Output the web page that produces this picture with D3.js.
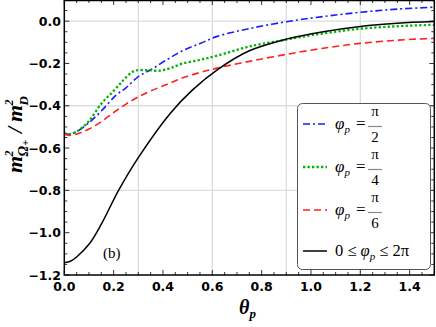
<!DOCTYPE html>
<html>
<head>
<meta charset="utf-8">
<script src="https://cdn.jsdelivr.net/npm/d3@7"></script>
<style>
  body { margin: 0; background: #fff; }
  svg { display: block; }
  .tick-label { font-family: "DejaVu Sans", sans-serif; font-weight: bold; font-size: 12.5px; }
  .math { font-family: "Liberation Serif", serif; }
</style>
</head>
<body>
<div id="chart"></div>
<script>
// theta_p samples and m^2/m_D^2 values
var blueX  = [0, 0.02, 0.05, 0.1, 0.15, 0.21, 0.25, 0.3, 0.35, 0.415, 0.483, 0.55, 0.62, 0.75, 0.9, 1.05, 1.2, 1.35, 1.5];
var blueY  = [-0.53, -0.535, -0.522, -0.48, -0.425, -0.35, -0.315, -0.262, -0.23, -0.183, -0.138, -0.106, -0.072, -0.035, -0.003, 0.022, 0.042, 0.057, 0.066];

var greenX = [0, 0.02, 0.06, 0.1, 0.15, 0.2, 0.24, 0.27, 0.29, 0.34, 0.39, 0.43, 0.48, 0.55, 0.62, 0.75, 0.9, 1.05, 1.2, 1.35, 1.5];
var greenY = [-0.53, -0.535, -0.515, -0.472, -0.39, -0.33, -0.278, -0.245, -0.233, -0.232, -0.234, -0.222, -0.2, -0.183, -0.163, -0.12, -0.087, -0.058, -0.036, -0.024, -0.017];

var redX   = [0, 0.02, 0.06, 0.1, 0.15, 0.2, 0.25, 0.3, 0.35, 0.42, 0.48, 0.55, 0.62, 0.75, 0.9, 1.05, 1.2, 1.35, 1.5];
var redY   = [-0.535, -0.54, -0.53, -0.51, -0.475, -0.432, -0.392, -0.358, -0.33, -0.297, -0.268, -0.243, -0.222, -0.19, -0.157, -0.128, -0.105, -0.09, -0.081];

var blackX = [0, 0.025, 0.05, 0.1, 0.15, 0.22, 0.3, 0.43, 0.52, 0.62, 0.75, 0.9, 1.05, 1.2, 1.35, 1.5];
var blackY = [-1.142, -1.135, -1.115, -1.055, -0.96, -0.8, -0.645, -0.435, -0.325, -0.23, -0.14, -0.085, -0.05, -0.025, -0.01, -0.002];

var xTicks = [0.0, 0.2, 0.4, 0.6, 0.8, 1.0, 1.2, 1.4];
var yTicks = [0.0, -0.2, -0.4, -0.6, -0.8, -1.0, -1.2];
var xGrid = [0.3, 0.6, 0.9, 1.2];
var yGrid = [0.0, -0.4, -0.8];

var legendDenoms = ["2", "4", "6"];

(function () {
  'use strict';
  var width = 436, height = 327;
  var svg = d3.select("#chart").append("svg")
    .attr("width", width)
    .attr("height", height);

  var x = d3.scaleLinear().domain([0, 1.5]).range([64.3, 434.3]);
  var y = d3.scaleLinear().domain([-1.2, 0.1]).range([275, 0]);

  function fmt(v) {
    return d3.format(".1f")(v).replace("-", "\u2212");
  }

  // grid
  svg.append("g").selectAll("line").data(xGrid).enter().append("line")
    .attr("x1", function (d) { return x(d); }).attr("x2", function (d) { return x(d); })
    .attr("y1", y(0.1)).attr("y2", y(-1.2))
    .attr("stroke", "#dcdcdc").attr("stroke-width", 1.3);
  svg.append("g").selectAll("line").data(yGrid).enter().append("line")
    .attr("x1", x(0)).attr("x2", x(1.5))
    .attr("y1", function (d) { return y(d); }).attr("y2", function (d) { return y(d); })
    .attr("stroke", "#dcdcdc").attr("stroke-width", 1.3);

  // tick marks, inward on all four sides
  var ticks = svg.append("g").attr("stroke", "#000").attr("stroke-width", 0.8);
  d3.range(0, 1.5001, 0.05).forEach(function (v) {
    var major = Math.abs(v * 5 - Math.round(v * 5)) < 1e-6;
    var len = major ? 5 : 3;
    ticks.append("line").attr("x1", x(v)).attr("x2", x(v)).attr("y1", y(-1.2)).attr("y2", y(-1.2) - len);
    ticks.append("line").attr("x1", x(v)).attr("x2", x(v)).attr("y1", y(0.1)).attr("y2", y(0.1) + len);
  });
  d3.range(-1.2, 0.1001, 0.05).forEach(function (v) {
    var major = Math.abs(v * 5 - Math.round(v * 5)) < 1e-6;
    var len = major ? 5 : 3;
    ticks.append("line").attr("x1", x(0)).attr("x2", x(0) + len).attr("y1", y(v)).attr("y2", y(v));
    ticks.append("line").attr("x1", x(1.5)).attr("x2", x(1.5) - len).attr("y1", y(v)).attr("y2", y(v));
  });

  // curves
  var line = d3.line()
    .x(function (d) { return x(d[0]); })
    .y(function (d) { return y(d[1]); })
    .curve(d3.curveCatmullRom.alpha(0.5));

  var series = [
    { xs: blueX, ys: blueY, color: "#1a1aff", dash: "7,3,2,3", w: 1.6 },
    { xs: greenX, ys: greenY, color: "#00b400", dash: "2.3,2.2", w: 2.3 },
    { xs: redX, ys: redY, color: "#ff2020", dash: "7,4", w: 1.6 },
    { xs: blackX, ys: blackY, color: "#000000", dash: null, w: 1.5 }
  ];

  var plot = svg.append("g");
  series.forEach(function (s) {
    plot.append("path")
      .datum(d3.zip(s.xs, s.ys))
      .attr("d", line)
      .attr("fill", "none")
      .attr("stroke", s.color)
      .attr("stroke-width", s.w)
      .attr("stroke-dasharray", s.dash);
  });

  // frame
  svg.append("rect")
    .attr("x", x(0)).attr("y", y(0.1) + 0.5)
    .attr("width", x(1.5) - x(0)).attr("height", y(-1.2) - y(0.1) - 0.5)
    .attr("fill", "none").attr("stroke", "#000").attr("stroke-width", 1.5);

  // tick labels
  svg.append("g").selectAll("text").data(xTicks).enter().append("text")
    .attr("class", "tick-label")
    .attr("x", function (d) { return x(d); })
    .attr("y", 291)
    .attr("text-anchor", "middle")
    .text(fmt);
  svg.append("g").selectAll("text").data(yTicks).enter().append("text")
    .attr("class", "tick-label")
    .attr("x", 61)
    .attr("y", function (d) { return y(d) + 4.5; })
    .attr("text-anchor", "end")
    .text(fmt);

  // x label
  var xl = svg.append("text").attr("class", "math")
    .attr("x", 239).attr("y", 314)
    .style("font-size", "20px").style("font-style", "italic").style("font-weight", "bold");
  xl.append("tspan").text("θ");
  xl.append("tspan").attr("dy", 4).style("font-size", "13px").text("p");

  // y label, pieces laid out along the rotated baseline
  var yl = svg.append("g")
    .attr("class", "math")
    .attr("transform", "translate(22,173) rotate(-90)")
    .style("font-style", "italic").style("font-weight", "bold");
  var pieces = [
    { t: "m", x: 0, y: 0, s: 22 },
    { t: "2", x: 16.5, y: -9, s: 12 },
    { t: "Ω", x: 16.5, y: 6, s: 14 },
    { t: "+", x: 27, y: 7, s: 11 },
    { t: "/", x: 40, y: 0, s: 22 },
    { t: "m", x: 51, y: 0, s: 22 },
    { t: "2", x: 67.5, y: -9, s: 12 },
    { t: "D", x: 67.5, y: 6, s: 13 }
  ];
  yl.selectAll("text").data(pieces).enter().append("text")
    .attr("x", function (d) { return d.x; })
    .attr("y", function (d) { return d.y; })
    .style("font-size", function (d) { return d.s + "px"; })
    .text(function (d) { return d.t; });

  // panel tag
  svg.append("text").attr("class", "math")
    .attr("x", 103).attr("y", 258)
    .style("font-size", "15px")
    .text("(b)");

  // legend
  svg.append("rect")
    .attr("x", 297.5).attr("y", 103.5).attr("width", 133).attr("height", 166)
    .attr("rx", 5).attr("ry", 5)
    .attr("fill", "#fff").attr("stroke", "#555").attr("stroke-width", 1);

  var rowY = [124, 167, 210, 251];
  var lg = svg.append("g");
  series.forEach(function (s, i) {
    var cy = rowY[i];
    lg.append("line")
      .attr("x1", 303).attr("x2", 327).attr("y1", cy).attr("y2", cy)
      .attr("stroke", s.color).attr("stroke-width", s.w)
      .attr("stroke-dasharray", s.dash);
    if (i < 3) {
      var t = lg.append("text").attr("class", "math")
        .attr("x", 335).attr("y", cy + 5).style("font-size", "17px");
      t.append("tspan").style("font-style", "italic").text("φ");
      t.append("tspan").attr("dy", 4).style("font-size", "11px").style("font-style", "italic").text("p");
      lg.append("text").attr("class", "math")
        .attr("x", 356).attr("y", cy + 5).style("font-size", "17px").text("=");
      lg.append("text").attr("class", "math")
        .attr("x", 375).attr("y", cy - 8).attr("text-anchor", "middle")
        .style("font-size", "15px").text("π");
      lg.append("line")
        .attr("x1", 368).attr("x2", 382).attr("y1", cy + 2.5).attr("y2", cy + 2.5)
        .attr("stroke", "#888").attr("stroke-width", 1.2);
      lg.append("text").attr("class", "math")
        .attr("x", 375).attr("y", cy + 17.5).attr("text-anchor", "middle")
        .style("font-size", "15px").text(legendDenoms[i]);
    } else {
      var t2 = lg.append("text").attr("class", "math")
        .attr("x", 335).attr("y", cy + 5).style("font-size", "16.5px");
      t2.append("tspan").text("0 \u2264 ");
      t2.append("tspan").style("font-style", "italic").text("φ");
      t2.append("tspan").attr("dy", 4).style("font-size", "11px").style("font-style", "italic").text("p");
      t2.append("tspan").attr("dy", -4).text(" \u2264 2π");
    }
  });
})();
</script>
</body>
</html>
